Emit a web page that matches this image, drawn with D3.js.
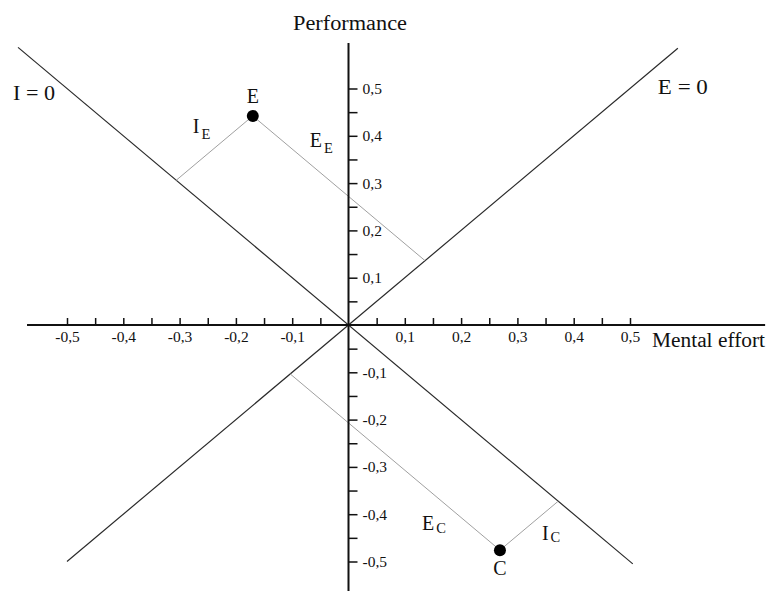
<!DOCTYPE html>
<html>
<head>
    <meta charset="utf-8">
    <style>
        body { margin: 0; background: #fff; }
        text { font-family: "Liberation Serif", "Times New Roman", serif; fill: #111; }
    </style>
</head>
<body>
    <script src="https://d3js.org/d3.v7.min.js"></script>
    <script>
        const width = 769;
        const height = 591;

        // points: mental effort (x) and performance (y)
        const pointNames = ["E", "C"];
        const effort = [-0.17, 0.269];
        const performance = [0.442, -0.476];

        // reference lines: I = 0 is y = -x, E = 0 is y = x
        const lineNames = ["I = 0", "E = 0"];
        const lineSlopes = [-1, 1];
        const lineFrom = [-0.587, -0.5];
        const lineTo = [0.505, 0.585];

        const tickValues = d3.range(-10, 11).map(i => i / 20);

        const x = d3.scaleLinear().domain([-0.5, 0.5]).range([67, 630]);
        const y = d3.scaleLinear().domain([-0.5, 0.5]).range([561.5, 88.5]);

        const fmt = v => {
            if (Math.abs(v) < 1e-9) return "";
            if (Math.round(v * 100) % 10 !== 0) return "";
            return (v < 0 ? "-" : "") + Math.abs(v).toFixed(1).replace(".", ",");
        };

        const svg = d3.select("body").append("svg")
            .attr("width", width).attr("height", height);

        // diagonal lines
        lineNames.forEach((name, i) => {
            const s = lineSlopes[i];
            svg.append("line")
                .attr("x1", x(lineFrom[i])).attr("y1", y(s * lineFrom[i]))
                .attr("x2", x(lineTo[i])).attr("y2", y(s * lineTo[i]))
                .attr("stroke", "#2a2a2a").attr("stroke-width", 1.2);
        });

        // projections of the points onto both lines (gray)
        pointNames.forEach((n, i) => {
            const px = effort[i], py = performance[i];
            const a = (px - py) / 2;   // foot on y = -x
            const b = (px + py) / 2;   // foot on y = x
            svg.append("line")
                .attr("x1", x(px)).attr("y1", y(py))
                .attr("x2", x(a)).attr("y2", y(-a))
                .attr("stroke", "#a0a0a0").attr("stroke-width", 1);
            svg.append("line")
                .attr("x1", x(px)).attr("y1", y(py))
                .attr("x2", x(b)).attr("y2", y(b))
                .attr("stroke", "#a0a0a0").attr("stroke-width", 1);
        });

        // x axis
        svg.append("line")
            .attr("x1", x(-0.571)).attr("x2", x(0.74))
            .attr("y1", y(0)).attr("y2", y(0))
            .attr("stroke", "#111").attr("stroke-width", 2);
        const xAxis = svg.append("g")
            .attr("transform", `translate(0,${y(0)})`)
            .call(d3.axisBottom(x).tickValues(tickValues).tickSize(-7).tickPadding(6).tickFormat(fmt));
        xAxis.select(".domain").remove();
        xAxis.selectAll(".tick line").attr("stroke", "#111").attr("stroke-width", 1.5)
            .filter(d => Math.abs(d) < 1e-9).remove();
        xAxis.selectAll(".tick text").attr("font-size", 15.5)
            .attr("font-family", "Liberation Serif").attr("fill", "#111");

        // y axis
        svg.append("line")
            .attr("x1", x(0)).attr("x2", x(0))
            .attr("y1", y(0.596)).attr("y2", height)
            .attr("stroke", "#111").attr("stroke-width", 2);
        const yAxis = svg.append("g")
            .attr("transform", `translate(${x(0)},0)`)
            .call(d3.axisRight(y).tickValues(tickValues).tickSize(9).tickPadding(5).tickFormat(fmt));
        yAxis.select(".domain").remove();
        yAxis.selectAll(".tick line").attr("stroke", "#111").attr("stroke-width", 1.5)
            .filter(d => Math.abs(d) < 1e-9).remove();
        yAxis.selectAll(".tick text").attr("font-size", 15.5)
            .attr("font-family", "Liberation Serif").attr("fill", "#111");

        // axis titles
        svg.append("text").attr("x", 293).attr("y", 30)
            .attr("font-size", 20).attr("textLength", 114).attr("lengthAdjust", "spacingAndGlyphs")
            .text("Performance");
        svg.append("text").attr("x", 652).attr("y", 347)
            .attr("font-size", 20).attr("textLength", 113).attr("lengthAdjust", "spacingAndGlyphs")
            .text("Mental effort");

        // line labels
        svg.append("text").attr("x", x(lineFrom[0]) - 5).attr("y", y(-lineFrom[0]) + 53)
            .attr("font-size", 20).attr("textLength", 42).attr("lengthAdjust", "spacingAndGlyphs")
            .text(lineNames[0]);
        svg.append("text").attr("x", x(lineTo[1]) - 20).attr("y", y(lineTo[1]) + 46)
            .attr("font-size", 20).attr("textLength", 50).attr("lengthAdjust", "spacingAndGlyphs")
            .text(lineNames[1]);

        // points
        svg.selectAll("circle.pt").data(pointNames).enter().append("circle")
            .attr("class", "pt")
            .attr("cx", (d, i) => x(effort[i]))
            .attr("cy", (d, i) => y(performance[i]))
            .attr("r", 6)
            .attr("fill", "#000");

        // point names
        const nameDy = [-13, 25];
        svg.selectAll("text.pname").data(pointNames).enter().append("text")
            .attr("class", "pname")
            .attr("x", (d, i) => x(effort[i]))
            .attr("y", (d, i) => y(performance[i]) + nameDy[i])
            .attr("text-anchor", "middle")
            .attr("font-size", 20)
            .text(d => d);

        // subscripted labels for the projection distances
        function subLabel(px, py, main, sub, subDy) {
            const t = svg.append("text").attr("x", px).attr("y", py).attr("font-size", 20);
            t.append("tspan").text(main);
            t.append("tspan").attr("font-size", 14.5).attr("dx", 2).attr("dy", subDy).text(sub);
        }
        const ex = x(effort[0]), ey = y(performance[0]);
        const cx = x(effort[1]), cy = y(performance[1]);
        subLabel(ex - 60, ey + 17, "I", "E", 6);
        subLabel(ex + 57, ey + 31, "E", "E", 6);
        subLabel(cx - 78, cy - 20, "E", "C", 3);
        subLabel(cx + 42, cy - 10, "I", "C", 2);
    </script>
</body>
</html>
